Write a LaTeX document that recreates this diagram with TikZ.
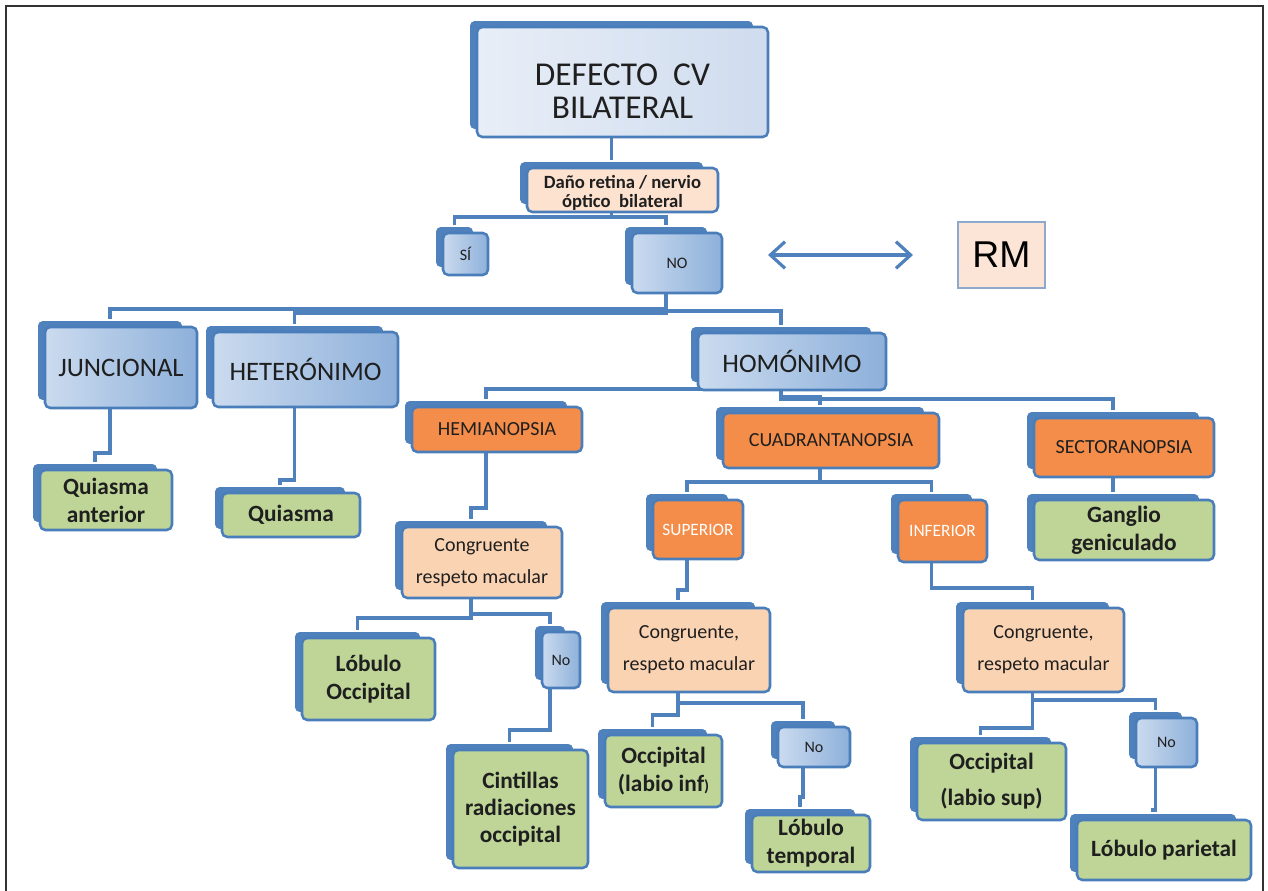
\documentclass[tikz,border=0pt]{standalone}
\usepackage{fontspec}
\setmainfont{Carlito}
\newfontfamily\arialfont{Liberation Sans}
\usetikzlibrary{arrows.meta,backgrounds}

\definecolor{smBlue}{HTML}{4F81BD}
\definecolor{smEdge}{HTML}{4A7EBB}
\definecolor{lbA}{HTML}{CBDBEF}
\definecolor{lbB}{HTML}{8DB0DA}
\definecolor{rootA}{HTML}{E8EEF7}
\definecolor{rootB}{HTML}{CFDCEE}
\definecolor{smOrange}{HTML}{F38D49}
\definecolor{smPeach}{HTML}{FAD3B3}
\definecolor{danoPeach}{HTML}{FCE2CF}
\definecolor{smGreen}{HTML}{BED597}
\definecolor{rmFill}{HTML}{FCE4D6}
\definecolor{rmEdge}{HTML}{8DA9CC}

\begin{document}
\begin{tikzpicture}[x=0.75pt,y=0.75pt,yscale=-1,xscale=1,
  dims/.style 2 args={minimum width=#1*0.75pt, minimum height=#2*0.75pt},
  back/.style={fill=smBlue, draw=white, line width=1.4pt, rounded corners=4pt, inner sep=0pt},
  front/.style={draw=smEdge, line width=1.9pt, rounded corners=4pt, align=center, inner sep=1pt, text=black!88},
  rootbox/.style={front, left color=rootA, right color=rootB, font=\fontsize{25}{25}\selectfont},
  bluebox/.style={front, left color=lbA, right color=lbB},
  orangebox/.style={front, fill=smOrange},
  peachbox/.style={front, fill=smPeach, font=\fontsize{15}{24}\selectfont},
  greenbox/.style={front, fill=smGreen, font=\bfseries\fontsize{17.5}{21}\selectfont},
  bigtxt/.style={font=\fontsize{20}{22}\selectfont},
  smalltxt/.style={font=\fontsize{12}{13}\selectfont},
  link/.style={draw=smBlue, line width=2.6pt},
]
\useasboundingbox (0,0) rectangle (1268,891);

% Text Node
\draw (611.5,75) node [back, dims={285}{110}] (rootB) {};
\draw (622.5,82) node [rootbox, dims={291}{110}] (root) {\rule{0pt}{30pt}DEFECTO~~CV\\BILATERAL};
% Text Node
\draw (611.5,183) node [back, dims={185}{44}] (danoB) {};
\draw (622.5,190) node [front, fill=danoPeach, dims={191}{44}, font=\bfseries\fontsize{14}{14.5}\selectfont] (dano) {\rule{0pt}{14pt}Daño retina / nervio\\óptico~ bilateral};
% Text Node
\draw (454.5,247) node [back, dims={39}{42}] (siB) {};
\draw (465.5,254) node [bluebox, dims={45}{42}, smalltxt] (si) {SÍ};
% Text Node
\draw (666,256) node [back, dims={84}{60}] (noB) {};
\draw (677,263) node [bluebox, dims={90}{60}, smalltxt] (no) {NO};
% Text Node
\draw (1001.5,255) node [draw=rmEdge, fill=rmFill, line width=1.1pt, dims={87}{66}, font=\arialfont\fontsize{28}{30}\selectfont] (rm) {RM};

% Text Node
\draw (110,360.5) node [back, dims={146}{81}] (juncB) {};
\draw (121,367.5) node [bluebox, dims={152}{81}, bigtxt] (junc) {JUNCIONAL};
% Text Node
\draw (294.5,362.5) node [back, dims={179}{75}] (heteB) {};
\draw (305.5,369.5) node [bluebox, dims={185}{75}, bigtxt] (hete) {HETERÓNIMO};
% Text Node
\draw (781,354.5) node [back, dims={182}{57}] (homoB) {};
\draw (792,361.5) node [bluebox, dims={188}{57}, bigtxt] (homo) {HOMÓNIMO};

% Text Node
\draw (486,422.5) node [back, dims={164}{45}] (hemiB) {};
\draw (497,429.5) node [orangebox, dims={170}{45}, font=\fontsize{15}{16}\selectfont] (hemi) {HEMIANOPSIA};
% Text Node
\draw (820,433.5) node [back, dims={210}{55}] (cuadB) {};
\draw (831,440.5) node [orangebox, dims={216}{55}, font=\fontsize{15}{16}\selectfont] (cuad) {CUADRANTANOPSIA};
% Text Node
\draw (1113,440.5) node [back, dims={174}{59}] (sectB) {};
\draw (1124,447.5) node [orangebox, dims={180}{59}, font=\fontsize{15}{16}\selectfont] (sect) {SECTORANOPSIA};

% Text Node
\draw (95,493) node [back, dims={126}{60}] (qantB) {};
\draw (106,500) node [greenbox, dims={132}{60}] (qant) {Quiasma\\anterior};
% Text Node
\draw (280,508) node [back, dims={132}{44}] (quiaB) {};
\draw (291,515) node [greenbox, dims={138}{44}] (quia) {Quiasma};
% Text Node
\draw (471,555.5) node [back, dims={154}{71}] (conhB) {};
\draw (482,562.5) node [peachbox, dims={160}{71}] (conh) {Congruente\\respeto macular};
% Text Node
\draw (687,522.5) node [back, dims={84}{59}] (supB) {};
\draw (698,529.5) node [orangebox, dims={90}{59}, text=white, font=\fontsize{13}{14}\selectfont] (sup) {SUPERIOR};
% Text Node
\draw (931.5,524) node [back, dims={83}{62}] (infB) {};
\draw (942.5,531) node [orangebox, dims={89}{62}, text=white, font=\fontsize{13}{14}\selectfont] (inf) {INFERIOR};
% Text Node
\draw (1113,523) node [back, dims={174}{60}] (gangB) {};
\draw (1124,530) node [greenbox, dims={180}{60}] (gang) {Ganglio\\geniculado};

% Text Node
\draw (357.5,672) node [back, dims={127}{82}] (locB) {};
\draw (368.5,679) node [greenbox, dims={133}{82}] (loc) {Lóbulo\\Occipital};
% Text Node
\draw (550,653) node [back, dims={32}{56}] (nohB) {};
\draw (561,660) node [bluebox, dims={38}{56}, smalltxt] (noh) {No};
% Text Node
\draw (678,643) node [back, dims={156}{84}] (consB) {};
\draw (689,650) node [peachbox, dims={162}{84}] (cons) {Congruente,\\respeto macular};
% Text Node
\draw (1032.5,643) node [back, dims={155}{84}] (coniB) {};
\draw (1043.5,650) node [peachbox, dims={161}{84}] (coni) {Congruente,\\respeto macular};

% Text Node
\draw (509.5,802) node [back, dims={129}{118}] (cintB) {};
\draw (520.5,809) node [greenbox, dims={135}{118}, font=\bfseries\fontsize{17.5}{20.5}\selectfont] (cint) {Cintillas\\radiaciones\\occipital};
% Text Node
\draw (652.5,764) node [back, dims={111}{72}] (olinfB) {};
\draw (663.5,771) node [greenbox, dims={117}{72}] (olinf) {Occipital\\(labio inf{\fontsize{12}{12}\selectfont)}};
% Text Node
\draw (803,740) node [back, dims={66}{40}] (nosB) {};
\draw (814,747) node [bluebox, dims={72}{40}, smalltxt] (nos) {No};
% Text Node
\draw (980.5,774.5) node [back, dims={143}{77}] (olsupB) {};
\draw (991.5,781.5) node [greenbox, dims={149}{77}, font=\bfseries\fontsize{17.5}{27}\selectfont] (olsup) {Occipital\\(labio sup)};
% Text Node
\draw (1155.5,735.5) node [back, dims={55}{49}] (noiB) {};
\draw (1166.5,742.5) node [bluebox, dims={61}{49}, smalltxt] (noi) {No};
% Text Node
\draw (800,836.5) node [back, dims={112}{57}] (ltempB) {};
\draw (811,843.5) node [greenbox, dims={118}{57}] (ltemp) {Lóbulo\\temporal};
% Text Node
\draw (1153,843) node [back, dims={168}{60}] (lparB) {};
\draw (1164,850) node [greenbox, dims={174}{60}] (lpar) {Lóbulo parietal};

%Straight Lines
\coordinate (arrL) at (768,255);
\coordinate (arrR) at (913,255);
\draw [smBlue, line width=2.4pt, {Straight Barb[length=11pt,width=20pt]}-{Straight Barb[length=11pt,width=20pt]}] (arrL) -- (arrR);

%Frame
\draw [color=black!80, line width=1.5pt] (6,891) -- (6,6) -- (1263,6) -- (1263,891);

\begin{scope}[on background layer]
\fill [white] (0,0) rectangle (1268,891);
%Straight Lines
\draw [link] (rootB.south) -- (danoB.north);
\draw [link] (danoB.south) |- (siB.north |- 0,217) -- (siB.north);
\draw [link] (danoB.south) |- (noB.north |- 0,217) -- (noB.north);
\draw [link] (noB.south) |- (juncB.north |- 0,309) -- (juncB.north);
\draw [link] (noB.south) |- (heteB.north |- 0,313) -- (heteB.north);
\draw [link] (noB.south) |- (homoB.north |- 0,311) -- (homoB.north);
\draw [link] (homoB.south) |- (hemiB.north |- 0,389) -- (hemiB.north);
\draw [link] (homoB.south) |- (cuadB.north |- 0,397) -- (cuadB.north);
\draw [link] (homoB.south) |- (sectB.north |- 0,399) -- (sectB.north);
\draw [link] (juncB.south) |- (qantB.north |- 0,453) -- (qantB.north);
\draw [link] (heteB.south) |- (quiaB.north |- 0,480) -- (quiaB.north);
\draw [link] (hemiB.south) |- (conhB.north |- 0,508) -- (conhB.north);
\draw [link] (cuadB.south) |- (supB.north |- 0,482) -- (supB.north);
\draw [link] (cuadB.south) |- (infB.north |- 0,482) -- (infB.north);
\draw [link] (sectB.south) -- (gangB.north);
\draw [link] (conhB.south) |- (locB.north |- 0,618) -- (locB.north);
\draw [link] (conhB.south) |- (nohB.north |- 0,614) -- (nohB.north);
\draw [link] (supB.south) |- (consB.north |- 0,590) -- (consB.north);
\draw [link] (infB.south) |- (coniB.north |- 0,588) -- (coniB.north);
\draw [link] (nohB.south) |- (cintB.north |- 0,730) -- (cintB.north);
\draw [link] (consB.south) |- (olinfB.north |- 0,715) -- (olinfB.north);
\draw [link] (consB.south) |- (nosB.north |- 0,703) -- (nosB.north);
\draw [link] (coniB.south) |- (olsupB.north |- 0,728) -- (olsupB.north);
\draw [link] (coniB.south) |- (noiB.north |- 0,700) -- (noiB.north);
\draw [link] (nosB.south) |- (ltempB.north |- 0,797) -- (ltempB.north);
\draw [link] (noiB.south) |- (lparB.north |- 0,810) -- (lparB.north);
\end{scope}

\end{tikzpicture}
\end{document}
